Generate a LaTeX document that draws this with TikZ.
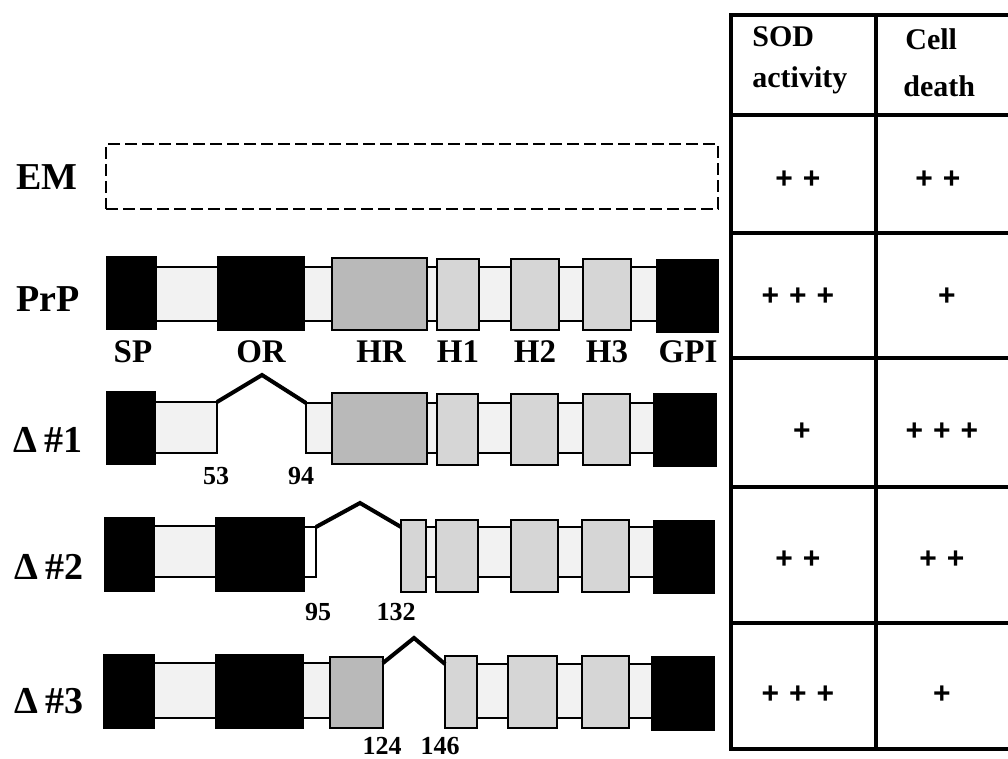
\documentclass[tikz,border=0pt]{standalone}
\usepackage{fontspec}
\setmainfont{Liberation Serif}
\newfontfamily\plusfont{Liberation Sans}
\usetikzlibrary{calc}
\tikzset{
 seg/.style={draw, line width=1pt, inner sep=0pt, outer sep=0pt, anchor=north west},
 blk/.style={seg, fill=black},
 lnk/.style={seg, fill=gray!10},
 hr/.style={seg, fill=gray!55},
 hx/.style={seg, fill=gray!32},
 wht/.style={seg, fill=white},
 del/.style={line width=2pt, line join=miter},
 rowlab/.style={font=\fontsize{19}{19}\selectfont\bfseries, anchor=base},
 domlab/.style={font=\fontsize{16.5}{16.5}\selectfont\bfseries, anchor=base},
 numlab/.style={font=\fontsize{13}{13}\selectfont\bfseries, anchor=base},
 head/.style={font=\fontsize{15}{15}\selectfont\bfseries, anchor=base west, inner sep=0pt},
 pl/.style={font=\fontsize{15}{15}\selectfont\plusfont\bfseries},
 tab/.style={line width=2pt},
 emb/.style={draw, line width=1pt, dash pattern=on 6pt off 2.5pt, inner sep=0pt, anchor=north west},
}
\newcommand\domseg[6]{\node[#6, minimum width={(#4-#2)*0.5pt}, minimum height={(#5-#3)*0.5pt}] (#1) at (#2,#3) {};}
\newcommand\pp{\hspace{5pt}}
\begin{document}
\begin{tikzpicture}[x=0.5pt,y=-0.5pt]
\useasboundingbox (0,0) rectangle (1008,759);
% ---------- row labels
\node[rowlab] (lEM) at (47,190) {EM};
\node[rowlab] (lPrP) at (48,312) {PrP};
\node[rowlab] (lD1) at (48,453) {Δ\,\#1};
\node[rowlab] (lD2) at (49,580) {Δ\,\#2};
\node[rowlab] (lD3) at (49,713) {Δ\,\#3};
% ---------- EM
\domseg{em}{105}{143}{717}{208}{emb}
% ---------- PrP
\domseg{pL}{130}{267}{690}{321}{lnk}
\domseg{pSP}{107}{257}{156}{329}{blk}
\domseg{pOR}{218}{257}{304}{330}{blk}
\domseg{pHR}{332}{258}{427}{330}{hr}
\domseg{pH1}{437}{259}{479}{330}{hx}
\domseg{pH2}{511}{259}{559}{330}{hx}
\domseg{pH3}{583}{259}{631}{330}{hx}
\domseg{pGPI}{657}{260}{718}{332}{blk}
\node[domlab] (tSP) at (133,363) {SP};
\node[domlab] (tOR) at (261,363) {OR};
\node[domlab] (tHR) at (381,363) {HR};
\node[domlab] (tH1) at (458,363) {H1};
\node[domlab] (tH2) at (535,363) {H2};
\node[domlab] (tH3) at (607,363) {H3};
\node[domlab] (tGPI) at (688,363) {GPI};
% ---------- Delta 1
\domseg{aLa}{130}{402}{217}{453}{lnk}
\domseg{aLb}{306}{403}{690}{453}{lnk}
\domseg{aSP}{107}{392}{155}{464}{blk}
\domseg{aHR}{332}{393}{427}{464}{hr}
\domseg{aH1}{437}{394}{478}{465}{hx}
\domseg{aH2}{511}{394}{558}{465}{hx}
\domseg{aH3}{583}{394}{630}{465}{hx}
\domseg{aGPI}{654}{394}{716}{466}{blk}
\coordinate (aPk) at (262,375);
\draw[del] (aLa.north east) -- (aPk) -- (aLb.north west);
\node[numlab] (n53) at (216,485) {53};
\node[numlab] (n94) at (301,485) {94};
% ---------- Delta 2
\domseg{bLa}{130}{526}{260}{577}{lnk}
\domseg{bLw}{290}{527}{316}{577}{wht}
\domseg{bLb}{410}{527}{690}{577}{lnk}
\domseg{bSP}{105}{518}{154}{591}{blk}
\domseg{bOR}{216}{518}{304}{591}{blk}
\domseg{bHR}{401}{520}{426}{592}{hx}
\domseg{bH1}{436}{520}{478}{592}{hx}
\domseg{bH2}{511}{520}{558}{592}{hx}
\domseg{bH3}{582}{520}{629}{592}{hx}
\domseg{bGPI}{654}{521}{714}{593}{blk}
\coordinate (bPk) at (360,503);
\coordinate (bEnd) at (401,527);
\draw[del] (bLw.north east) -- (bPk) -- (bEnd);
\node[numlab] (n95) at (318,620) {95};
\node[numlab] (n132) at (396,620) {132};
% ---------- Delta 3
\domseg{cLa}{130}{663}{350}{718}{lnk}
\domseg{cLb}{460}{664}{690}{718}{lnk}
\domseg{cSP}{104}{655}{154}{728}{blk}
\domseg{cOR}{216}{655}{303}{728}{blk}
\domseg{cHR}{330}{657}{383}{728}{hr}
\domseg{cH1}{445}{656}{477}{728}{hx}
\domseg{cH2}{508}{656}{557}{728}{hx}
\domseg{cH3}{582}{656}{629}{728}{hx}
\domseg{cGPI}{652}{657}{714}{730}{blk}
\coordinate (cSt) at (383,663);
\coordinate (cPk) at (414,638);
\coordinate (cEnd) at (445,664);
\draw[del] (cSt) -- (cPk) -- (cEnd);
\node[numlab] (n124) at (382,754) {124};
\node[numlab] (n146) at (440,754) {146};
% ---------- table
\draw[tab] (1008,15) -- (731,15) -- (731,749) -- (1008,749);
\draw[tab] (876,15) -- (876,749);
\foreach \yy in {115,233,358,487,623} \draw[tab] (731,\yy) -- (1008,\yy);
\node[head] (hSOD) at (752,47) {SOD};
\node[head] (hAct) at (752,88) {activity};
\node[head] (hCell) at (905,50) {Cell};
\node[head] (hDeath) at (903,97) {death};
\node[pl] (s1) at (798,180) {+\pp+};
\node[pl] (c1) at (938,180) {+\pp+};
\node[pl] (s2) at (798,297) {+\pp+\pp+};
\node[pl] (c2) at (947,297) {+};
\node[pl] (s3) at (802,432) {+};
\node[pl] (c3) at (942,432) {+\pp+\pp+};
\node[pl] (s4) at (798,560) {+\pp+};
\node[pl] (c4) at (942,560) {+\pp+};
\node[pl] (s5) at (798,695) {+\pp+\pp+};
\node[pl] (c5) at (942,695) {+};
\end{tikzpicture}
\end{document}
